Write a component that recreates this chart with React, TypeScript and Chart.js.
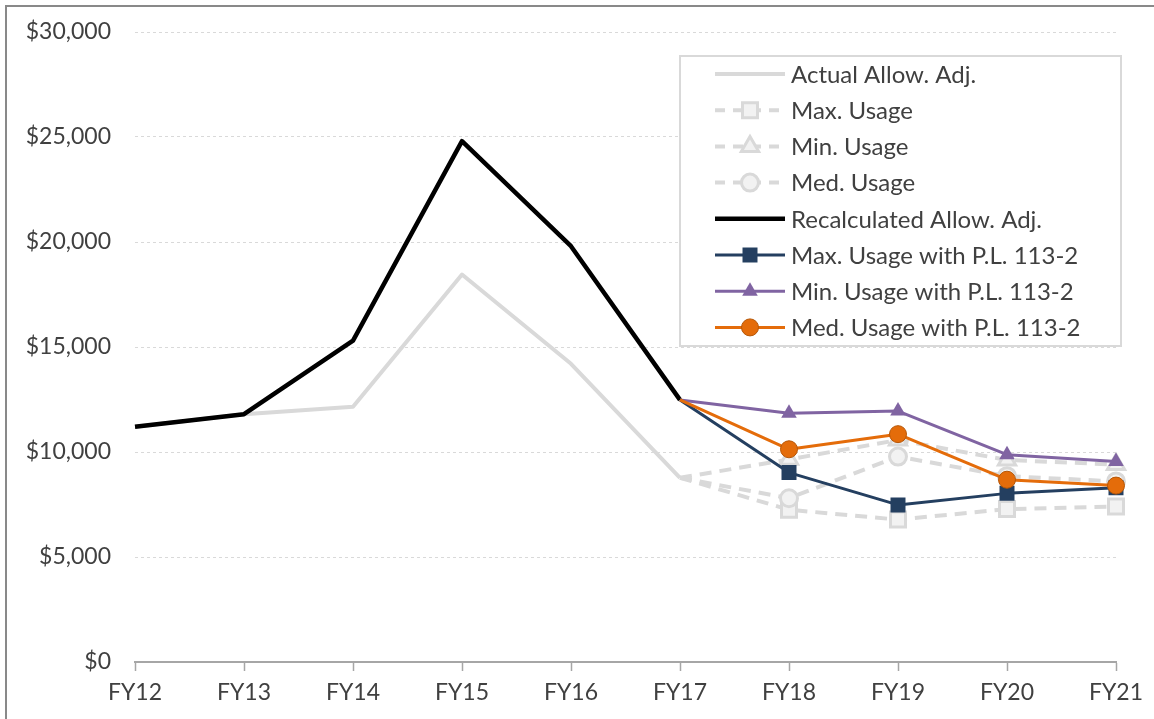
import React, { useEffect, useRef } from "react";
import { Chart, registerables } from "chart.js";

Chart.register(...registerables);

const categories = ["FY12", "FY13", "FY14", "FY15", "FY16", "FY17", "FY18", "FY19", "FY20", "FY21"];
const actualAllowAdj = [11200, 11800, 12150, 18450, 14200, 8770, null, null, null, null];
const maxUsage = [null, null, null, null, null, 8770, 7250, 6780, 7280, 7400];
const minUsage = [null, null, null, null, null, 8770, 9650, 10570, 9620, 9400];
const medUsage = [null, null, null, null, null, 8770, 7800, 9780, 8850, 8600];
const recalcAllowAdj = [11200, 11800, 15300, 24800, 19800, 12480, null, null, null, null];
const maxUsagePL = [null, null, null, null, null, 12480, 9020, 7480, 8030, 8300];
const minUsagePL = [null, null, null, null, null, 12480, 11850, 11950, 9870, 9550];
const medUsagePL = [null, null, null, null, null, 12480, 10130, 10850, 8680, 8400];
const yTicks = [0, 5000, 10000, 15000, 20000, 25000, 30000];

const FONT = "Lato, 'Open Sans', sans-serif";
const TEXT = "#404040";
const GRAY = "#d9d9d9";
const GRAYFILL = "#f2f2f2";
const NAVY = "#243f60";
const PURPLE = "#8064a2";
const ORANGE = "#e46c0a";
const ORANGE_B = "#b65708";

const markerR = (r: number) => categories.map((_, i) => (i >= 6 ? r : 0));

function drawMarker(ctx: CanvasRenderingContext2D, style: string, x: number, y: number, r: number, fill: string, stroke: string, bw: number) {
  ctx.save();
  ctx.setLineDash([]);
  ctx.fillStyle = fill;
  ctx.strokeStyle = stroke;
  ctx.lineWidth = bw;
  ctx.beginPath();
  if (style === "rect") {
    const s = Math.SQRT1_2 * r;
    ctx.rect(x - s, y - s, 2 * s, 2 * s);
  } else if (style === "triangle") {
    for (let k = 0; k < 3; k++) {
      const a = -Math.PI / 2 + (k * 2 * Math.PI) / 3;
      const px = x + Math.cos(a) * r;
      const py = y + Math.sin(a) * r;
      if (k === 0) ctx.moveTo(px, py);
      else ctx.lineTo(px, py);
    }
    ctx.closePath();
  } else {
    ctx.arc(x, y, r, 0, Math.PI * 2);
  }
  ctx.fill();
  if (bw > 0) ctx.stroke();
  ctx.restore();
}

const legendItems = [
  { label: "Actual Allow. Adj.", color: GRAY, width: 4, dash: [] as number[], marker: null as string | null, r: 0, fill: "", stroke: "", bw: 0 },
  { label: "Max. Usage", color: GRAY, width: 4, dash: [10, 8], marker: "rect", r: 10.6, fill: GRAYFILL, stroke: GRAY, bw: 3 },
  { label: "Min. Usage", color: GRAY, width: 4, dash: [10, 8], marker: "triangle", r: 10, fill: GRAYFILL, stroke: GRAY, bw: 3 },
  { label: "Med. Usage", color: GRAY, width: 4, dash: [10, 8], marker: "circle", r: 8.5, fill: GRAYFILL, stroke: GRAY, bw: 3 },
  { label: "Recalculated Allow. Adj.", color: "#000000", width: 4.5, dash: [], marker: null, r: 0, fill: "", stroke: "", bw: 0 },
  { label: "Max. Usage with P.L. 113-2", color: NAVY, width: 3, dash: [], marker: "rect", r: 10.6, fill: NAVY, stroke: NAVY, bw: 0 },
  { label: "Min. Usage with P.L. 113-2", color: PURPLE, width: 3, dash: [], marker: "triangle", r: 9, fill: PURPLE, stroke: PURPLE, bw: 0 },
  { label: "Med. Usage with P.L. 113-2", color: ORANGE, width: 3, dash: [], marker: "circle", r: 8.5, fill: ORANGE, stroke: ORANGE_B, bw: 1 },
];

const decorPlugin = {
  id: "decor",
  afterDraw(chart: any) {
    const ctx: CanvasRenderingContext2D = chart.ctx;
    ctx.save();
    const bx = 680, by = 56, bw = 441, bh = 290;
    ctx.fillStyle = "#ffffff";
    ctx.fillRect(bx, by, bw, bh);
    ctx.strokeStyle = GRAY;
    ctx.lineWidth = 2;
    ctx.strokeRect(bx, by, bw, bh);
    ctx.font = `24px ${FONT}`;
    ctx.textBaseline = "middle";
    ctx.textAlign = "left";
    legendItems.forEach((it, i) => {
      const y = 74 + i * 36.2;
      ctx.save();
      ctx.strokeStyle = it.color;
      ctx.lineWidth = it.width;
      ctx.setLineDash(it.dash);
      ctx.beginPath();
      ctx.moveTo(715, y);
      ctx.lineTo(785, y);
      ctx.stroke();
      ctx.restore();
      if (it.marker) drawMarker(ctx, it.marker, 750, y, it.r, it.fill, it.stroke, it.bw);
      ctx.fillStyle = TEXT;
      ctx.fillText(it.label, 791, y + 1);
    });
    ctx.fillStyle = "#898989";
    ctx.fillRect(5, 5, 1154, 2);
    ctx.fillRect(5, 5, 2, 719);
    ctx.restore();
  },
};

export default function App() {
  const ref = useRef<HTMLCanvasElement>(null);
  useEffect(() => {
    if (!ref.current) return;
    const chart = new Chart(ref.current, {
      type: "line",
      data: {
        labels: categories,
        datasets: [
          { label: "Actual Allow. Adj.", data: actualAllowAdj, borderColor: GRAY, borderWidth: 4, pointRadius: 0, order: 9 },
          {
            label: "Max. Usage", data: maxUsage, borderColor: GRAY, borderWidth: 4, borderDash: [12, 8],
            pointStyle: "rect", pointRadius: markerR(10.6), pointBackgroundColor: GRAYFILL, pointBorderColor: GRAY, pointBorderWidth: 3, order: 8,
          },
          {
            label: "Min. Usage", data: minUsage, borderColor: GRAY, borderWidth: 4, borderDash: [12, 8],
            pointStyle: "triangle", pointRadius: markerR(10), pointBackgroundColor: GRAYFILL, pointBorderColor: GRAY, pointBorderWidth: 3, order: 7,
          },
          {
            label: "Med. Usage", data: medUsage, borderColor: GRAY, borderWidth: 4, borderDash: [12, 8],
            pointStyle: "circle", pointRadius: markerR(8.5), pointBackgroundColor: GRAYFILL, pointBorderColor: GRAY, pointBorderWidth: 3, order: 6,
          },
          { label: "Recalculated Allow. Adj.", data: recalcAllowAdj, borderColor: "#000000", borderWidth: 4.5, pointRadius: 0, order: 5 },
          {
            label: "Max. Usage with P.L. 113-2", data: maxUsagePL, borderColor: NAVY, borderWidth: 3,
            pointStyle: "rect", pointRadius: markerR(10.6), pointBackgroundColor: NAVY, pointBorderColor: NAVY, pointBorderWidth: 0, order: 2,
          },
          {
            label: "Min. Usage with P.L. 113-2", data: minUsagePL, borderColor: PURPLE, borderWidth: 3,
            pointStyle: "triangle", pointRadius: markerR(9), pointBackgroundColor: PURPLE, pointBorderColor: PURPLE, pointBorderWidth: 0, order: 3,
          },
          {
            label: "Med. Usage with P.L. 113-2", data: medUsagePL, borderColor: ORANGE, borderWidth: 3,
            pointStyle: "circle", pointRadius: markerR(8.5), pointBackgroundColor: ORANGE, pointBorderColor: ORANGE_B, pointBorderWidth: 1, order: 1,
          },
        ],
      },
      options: {
        responsive: false,
        animation: false,
        events: [],
        spanGaps: false,
        layout: { padding: { left: 0, top: 32, right: 38, bottom: 0 } },
        plugins: { legend: { display: false }, tooltip: { enabled: false } },
        elements: { line: { tension: 0, borderJoinStyle: "round" as any } },
        scales: {
          x: {
            offset: false,
            grid: { display: true, drawOnChartArea: false, drawTicks: true, tickLength: 9, tickColor: "#a6a6a6", tickWidth: 1.5 },
            border: { display: true, color: "#a6a6a6", width: 2 },
            ticks: { color: TEXT, font: { family: FONT, size: 23 }, padding: 8, maxRotation: 0, autoSkip: false },
            afterFit: (s: any) => { s.height = 719 - 662; },
          },
          y: {
            min: 0,
            max: 30000,
            afterBuildTicks: (s: any) => { s.ticks = yTicks.map((v) => ({ value: v })); },
            grid: { color: GRAY, lineWidth: 1, drawTicks: true, tickLength: 20, tickColor: "rgba(0,0,0,0)" },
            border: { display: false, dash: [3, 3] },
            ticks: {
              color: TEXT,
              font: { family: FONT, size: 23 },
              padding: 4,
              callback: (v: any) => "$" + Number(v).toLocaleString("en-US"),
            },
            afterFit: (s: any) => { s.width = 135; },
          },
        },
      },
      plugins: [decorPlugin],
    });
    return () => chart.destroy();
  }, []);
  return (
    <div style={{ position: "fixed", left: 0, top: 0, width: 1154, height: 719, background: "#fff" }}>
      <canvas ref={ref} width={1154} height={719} style={{ display: "block" }} />
    </div>
  );
}
